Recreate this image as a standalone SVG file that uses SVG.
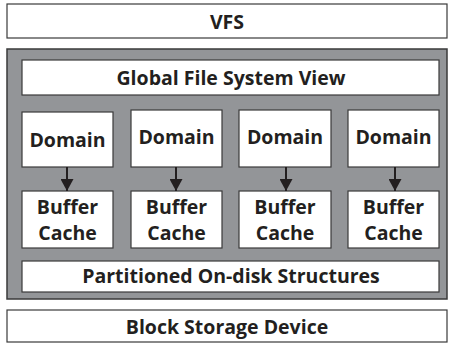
<svg xmlns="http://www.w3.org/2000/svg" width="450" height="345" viewBox="0 0 450 345">
<defs>
<style>
.box{fill:#fff;stroke:#3a3a3a;stroke-width:1.2}
.outer{fill:#939598;stroke:#3a3a3a;stroke-width:1.5}
text{font-family:"Open Sans","Liberation Sans",sans-serif;font-weight:bold;font-size:19.5px;fill:#231f20;text-anchor:middle}
.con{stroke:#231f20;stroke-width:2;fill:none}
</style>
<marker id="ah" viewBox="0 0 12 13" markerWidth="12" markerHeight="13" refX="12" refY="6.5" orient="auto" markerUnits="userSpaceOnUse">
<path d="M0,0 L12,6.5 L0,13 Z" fill="#231f20"/>
</marker>
</defs>
<g id="vfs"><rect class="box" x="7" y="4" width="440" height="34"/><text x="227" y="29">VFS</text></g>
<g id="container"><rect class="outer" x="7" y="49" width="440" height="250"/></g>
<g id="global"><rect class="box" x="22" y="60" width="417" height="35"/><text x="231" y="85">Global File System View</text></g>
<g id="domain1"><rect class="box" x="22" y="112" width="91" height="55"/><text x="67.5" y="147">Domain</text></g>
<g id="domain2"><rect class="box" x="131" y="110" width="91" height="57"/><text x="176.5" y="144">Domain</text></g>
<g id="domain3"><rect class="box" x="239" y="110" width="92" height="57"/><text x="285" y="144">Domain</text></g>
<g id="domain4"><rect class="box" x="348" y="110" width="91" height="57"/><text x="393.5" y="144">Domain</text></g>
<g id="buffer1"><rect class="box" x="22" y="191" width="91" height="57"/><text x="67.5" y="214">Buffer</text><text x="67.5" y="240">Cache</text></g>
<g id="buffer2"><rect class="box" x="131" y="191" width="91" height="57"/><text x="176.5" y="214">Buffer</text><text x="176.5" y="240">Cache</text></g>
<g id="buffer3"><rect class="box" x="239" y="191" width="92" height="57"/><text x="285" y="214">Buffer</text><text x="285" y="240">Cache</text></g>
<g id="buffer4"><rect class="box" x="348" y="191" width="91" height="57"/><text x="393.5" y="214">Buffer</text><text x="393.5" y="240">Cache</text></g>
<g id="partitioned"><rect class="box" x="22" y="261" width="417" height="31"/><text x="231" y="283">Partitioned On-disk Structures</text></g>
<g id="block"><rect class="box" x="7" y="310" width="440" height="32"/><text x="227" y="334">Block Storage Device</text></g>
<g id="connectors">
<line class="con" x1="67" y1="167" x2="67" y2="191" marker-end="url(#ah)"/>
<line class="con" x1="176" y1="167" x2="176" y2="191" marker-end="url(#ah)"/>
<line class="con" x1="286" y1="167" x2="286" y2="191" marker-end="url(#ah)"/>
<line class="con" x1="395" y1="167" x2="395" y2="191" marker-end="url(#ah)"/>
</g>
</svg>
